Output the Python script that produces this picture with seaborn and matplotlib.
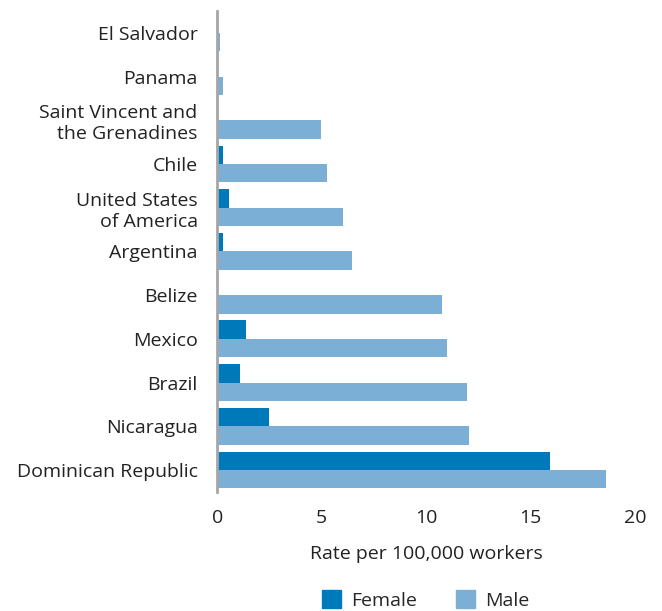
import pandas as pd
import matplotlib.pyplot as plt
import seaborn as sns

# Données
countries = ["El Salvador", "Panama", "Saint Vincent and\nthe Grenadines", "Chile",
             "United States\nof America", "Argentina", "Belize", "Mexico", "Brazil",
             "Nicaragua", "Dominican Republic"]
female = [0, 0, 0, 0.3, 0.55, 0.3, 0, 1.4, 1.1, 2.5, 15.95]
male = [0.15, 0.3, 4.95, 5.25, 6.05, 6.45, 10.75, 11.0, 11.95, 12.05, 18.6]
sexes = ["Female", "Male"]
colors = ["#0079ba", "#7bafd6"]

df = pd.DataFrame({
    "Country": countries * 2,
    "Sex": ["Female"] * len(countries) + ["Male"] * len(countries),
    "Rate": female + male,
})

sns.set_style("white")
plt.rcParams['font.family'] = ['Open Sans', 'DejaVu Sans']

fig = plt.figure(figsize=(6.62, 6.11), dpi=100)
ax = fig.add_axes([0.328, 0.195, 0.631, 0.787])
sns.barplot(data=df, y="Country", x="Rate", hue="Sex", order=countries,
            hue_order=sexes, palette=colors, orient="h", width=0.84,
            saturation=1, linewidth=0, ax=ax, legend=False)

ax.set_xlim(0, 20)
ax.set_ylim(len(countries) - 0.5, -0.5)
ax.set_xticks([0, 5, 10, 15, 20])
ax.tick_params(axis="both", length=0, labelsize=14, colors="#222222")
ax.tick_params(axis="y", pad=14)
ax.tick_params(axis="x", pad=12)
for lab in ax.get_yticklabels():
    lab.set_horizontalalignment("right")
ax.set_ylabel("")
ax.set_xlabel("Rate per 100,000 workers", fontsize=14, color="#222222", labelpad=13)

for s in ["top", "right", "bottom"]:
    ax.spines[s].set_visible(False)
ax.spines["left"].set_color("#a6a6a6")
ax.spines["left"].set_linewidth(2)
ax.spines["left"].set_zorder(3)

handles = [plt.Rectangle((0, 0), 1, 1, color=c) for c in colors]
fig.legend(handles, sexes, loc="center", bbox_to_anchor=(0.643, 0.018), ncol=2,
           frameon=False, fontsize=14, handlelength=1.0, handleheight=1.0,
           columnspacing=2.0, handletextpad=0.5)

fig.savefig("out.png", dpi=100)
